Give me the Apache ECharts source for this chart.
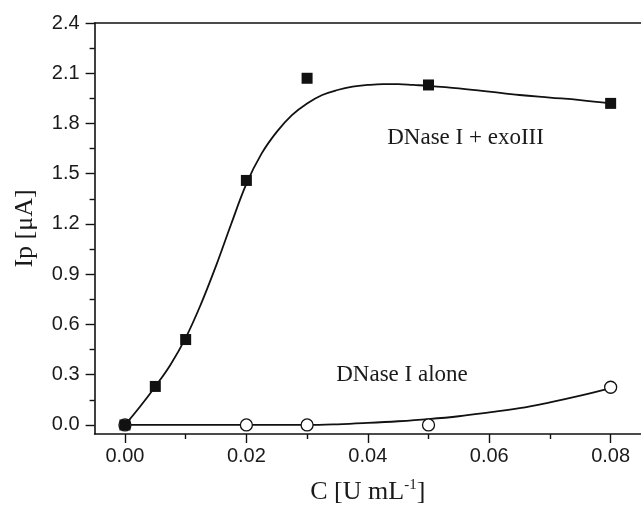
<!DOCTYPE html>
<html>
<head>
<meta charset="utf-8">
<script src="https://cdn.jsdelivr.net/npm/echarts@6/dist/echarts.min.js"></script>
<style>html,body{margin:0;padding:0;background:#fff;}#c{width:641px;height:513px;}</style>
</head>
<body>
<div id="c"></div>
<script>
// ---- data ----
const exoX = [0, 0.005, 0.01, 0.02, 0.03, 0.05, 0.08];
const exoY = [0, 0.23, 0.51, 1.46, 2.07, 2.03, 1.92];
const aloneX = [0, 0.02, 0.03, 0.05, 0.08];
const aloneY = [0, 0, 0, 0, 0.225];
// fitted curves
const exoFitX = [0, 0.0025, 0.005, 0.0075, 0.01, 0.0125, 0.015, 0.0175, 0.02, 0.0225, 0.025, 0.0275, 0.03, 0.0325, 0.035, 0.0375, 0.04, 0.0425, 0.045, 0.0475, 0.05, 0.055, 0.06, 0.065, 0.07, 0.075, 0.08];
const exoFitY = [0, 0.11, 0.23, 0.36, 0.52, 0.72, 0.95, 1.20, 1.44, 1.62, 1.75, 1.85, 1.92, 1.97, 2.00, 2.02, 2.03, 2.035, 2.035, 2.03, 2.025, 2.01, 1.99, 1.97, 1.955, 1.94, 1.92];
const aloneFitX = [0, 0.01, 0.02, 0.03, 0.035, 0.04, 0.045, 0.05, 0.055, 0.06, 0.065, 0.07, 0.075, 0.08];
const aloneFitY = [0, 0, 0, 0, 0.004, 0.012, 0.022, 0.035, 0.052, 0.075, 0.10, 0.135, 0.175, 0.22];
const xTicks = [0, 0.02, 0.04, 0.06, 0.08];
const xMinorTicks = [0.01, 0.03, 0.05, 0.07];
const yTicks = [0, 0.3, 0.6, 0.9, 1.2, 1.5, 1.8, 2.1, 2.4];
const yMinorTicks = [0.15, 0.45, 0.75, 1.05, 1.35, 1.65, 1.95, 2.25];
const labelExo = 'DNase I + exoIII';
const labelAlone = 'DNase I alone';
const xName = 'C [U mL';
const xNameSup = '-1';
const yName = 'Ip [μA]';

const zip = (a, b) => a.map((v, i) => [v, b[i]]);
const XMIN = -0.005, XMAX = 0.085, YMIN = -0.054, YMAX = 2.4;
const sans = 'Liberation Sans, Arial, sans-serif';
const serif = 'Liberation Serif, Times New Roman, serif';
const lineCol = '#111';

const baseX = {type: 'value', min: XMIN, max: XMAX, splitLine: {show: false}};
const baseY = {type: 'value', min: YMIN, max: YMAX, splitLine: {show: false}};

const chart = echarts.init(document.getElementById('c'), null, {renderer: 'canvas'});
chart.setOption({
  backgroundColor: '#fff',
  animation: false,
  grid: {left: 94.6, top: 23, width: 548, height: 411, containLabel: false},
  xAxis: [
    Object.assign({}, baseX, {
      position: 'bottom',
      axisLine: {show: true, onZero: false, lineStyle: {color: lineCol, width: 1.6}},
      axisTick: {show: true, length: 9, lineStyle: {color: lineCol, width: 1.4}, customValues: xTicks},
      axisLabel: {show: true, customValues: xTicks, margin: 12, fontFamily: sans, fontSize: 20, color: '#1a1a1a',
        formatter: v => v.toFixed(2)},
      name: '{m|' + xName + '}{s|' + xNameSup + '}{m|]}',
      nameLocation: 'middle', nameGap: 44,
      nameTextStyle: {fontFamily: serif, fontSize: 26, color: '#1a1a1a',
        rich: {m: {fontFamily: serif, fontSize: 26, color: '#1a1a1a'},
               s: {fontFamily: serif, fontSize: 15, color: '#1a1a1a', padding: [0, 0, 14, 0]}}}
    }),
    Object.assign({}, baseX, {
      position: 'bottom',
      axisLine: {show: false, onZero: false},
      axisTick: {show: true, length: 5, lineStyle: {color: lineCol, width: 1.4}, customValues: xMinorTicks},
      axisLabel: {show: false}
    }),
    Object.assign({}, baseX, {
      position: 'top',
      axisLine: {show: true, onZero: false, lineStyle: {color: lineCol, width: 1.6}},
      axisTick: {show: false},
      axisLabel: {show: false}
    })
  ],
  yAxis: [
    Object.assign({}, baseY, {
      position: 'left',
      axisLine: {show: true, onZero: false, lineStyle: {color: lineCol, width: 1.6}},
      axisTick: {show: true, length: 9, lineStyle: {color: lineCol, width: 1.4}, customValues: yTicks},
      axisLabel: {show: true, customValues: yTicks, margin: 15, fontFamily: sans, fontSize: 20, color: '#1a1a1a',
        formatter: v => v.toFixed(1)},
      name: yName, nameLocation: 'middle', nameGap: 56,
      nameTextStyle: {fontFamily: serif, fontSize: 26, color: '#1a1a1a'}
    }),
    Object.assign({}, baseY, {
      position: 'left',
      axisLine: {show: false, onZero: false},
      axisTick: {show: true, length: 5, lineStyle: {color: lineCol, width: 1.4}, customValues: yMinorTicks},
      axisLabel: {show: false}
    })
  ],
  series: [
    {type: 'line', data: zip(exoFitX, exoFitY), smooth: 0.4, showSymbol: false, symbol: 'none',
      lineStyle: {color: lineCol, width: 1.8}, z: 2},
    {type: 'line', data: zip(aloneFitX, aloneFitY), smooth: 0.4, showSymbol: false, symbol: 'none',
      lineStyle: {color: lineCol, width: 1.8}, z: 2},
    {type: 'scatter', data: zip(aloneX, aloneY), symbol: 'circle', symbolSize: 12,
      itemStyle: {color: '#fff', borderColor: '#111', borderWidth: 1.3, opacity: 1}, z: 3},
    {type: 'scatter', data: zip(exoX, exoY), symbol: 'rect', symbolSize: 11,
      itemStyle: {color: '#111', opacity: 1}, z: 4}
  ]
});

const p1 = chart.convertToPixel({xAxisIndex: 0, yAxisIndex: 0}, [0.0432, 1.712]);
const p2 = chart.convertToPixel({xAxisIndex: 0, yAxisIndex: 0}, [0.0348, 0.298]);
chart.setOption({
  graphic: [
    {type: 'text', x: p1[0], y: p1[1], style: {text: labelExo, font: '23px ' + serif, fill: '#1a1a1a', textAlign: 'left', textVerticalAlign: 'middle'}},
    {type: 'text', x: p2[0], y: p2[1], style: {text: labelAlone, font: '23px ' + serif, fill: '#1a1a1a', textAlign: 'left', textVerticalAlign: 'middle'}}
  ]
});
</script>
</body>
</html>
